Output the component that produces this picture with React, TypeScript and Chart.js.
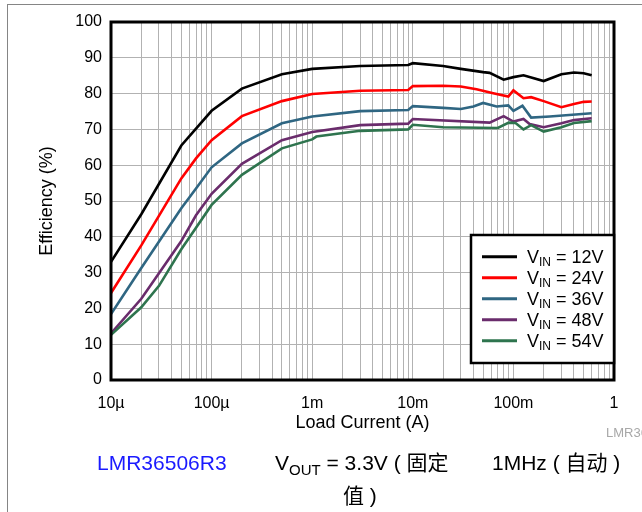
import React, { useEffect, useRef } from 'react';
import { Chart, registerables } from 'chart.js';

Chart.register(...registerables);

// ---- data ----
const decades = [1e-5, 1e-4, 1e-3, 1e-2, 1e-1, 1];
const xTickLabels = ['10µ', '100µ', '1m', '10m', '100m', '1'];
const mantissas = [1, 2, 3, 4, 5, 6, 7, 8, 9];
const yTicks = [0, 10, 20, 30, 40, 50, 60, 70, 80, 90, 100];

const seriesLabels = ['12V', '24V', '36V', '48V', '54V'];
const seriesColors = ['#000000', '#ff0000', '#2f6682', '#6a2c6c', '#2e744e'];

const cur12 = [1e-5, 2e-5, 5e-5, 1e-4, 2e-4, 5e-4, 1e-3, 3e-3, 9e-3, 1e-2, 2e-2, 3e-2, 5e-2, 5.8e-2, 8e-2, 1e-1, 1.26e-1, 2e-1, 3e-1, 4e-1, 5e-1, 6e-1];
const eff12 = [33.0, 46.3, 65.5, 75.2, 81.4, 85.4, 86.9, 87.7, 88.0, 88.5, 87.7, 86.9, 86.0, 85.8, 83.9, 84.6, 85.1, 83.5, 85.4, 85.9, 85.7, 85.1];

const cur24 = [1e-5, 2e-5, 5e-5, 7e-5, 1e-4, 2e-4, 5e-4, 1e-3, 3e-3, 9e-3, 1e-2, 2e-2, 3e-2, 4.3e-2, 6.3e-2, 8.9e-2, 1e-1, 1.26e-1, 1.5e-1, 2e-1, 3e-1, 4e-1, 5e-1, 6e-1];
const eff24 = [24.3, 37.6, 56.3, 61.9, 67.0, 73.7, 77.9, 79.9, 80.8, 81.0, 82.1, 82.2, 82.0, 81.2, 80.1, 79.2, 80.9, 78.7, 79.0, 77.9, 76.2, 77.1, 77.7, 77.8];

const cur36 = [1e-5, 2e-5, 5e-5, 7e-5, 1e-4, 2e-4, 5e-4, 1e-3, 3e-3, 9e-3, 1e-2, 2e-2, 3e-2, 4e-2, 5e-2, 6.8e-2, 8.9e-2, 1e-1, 1.23e-1, 1.5e-1, 2.3e-1, 6e-1];
const eff36 = [18.4, 31.3, 48.0, 53.5, 59.4, 66.1, 71.7, 73.6, 75.1, 75.4, 76.5, 76.0, 75.7, 76.4, 77.4, 76.4, 76.7, 75.2, 76.6, 73.3, 73.6, 74.5];

const cur48 = [1e-5, 2e-5, 5e-5, 7e-5, 1e-4, 2e-4, 5e-4, 1e-3, 3e-3, 9e-3, 1e-2, 5.8e-2, 8e-2, 1e-1, 1.26e-1, 1.45e-1, 2e-1, 3e-1, 4e-1, 6e-1];
const eff48 = [13.0, 22.7, 38.8, 46.0, 52.0, 60.4, 67.0, 69.3, 71.2, 71.6, 72.9, 71.9, 73.7, 72.2, 72.9, 71.5, 70.6, 71.7, 72.6, 73.1];

const cur54 = [1e-5, 2e-5, 3e-5, 5e-5, 7e-5, 1e-4, 2e-4, 5e-4, 1e-3, 1.1e-3, 3e-3, 9e-3, 1e-2, 2e-2, 7e-2, 9e-2, 1.05e-1, 1.26e-1, 1.5e-1, 2e-1, 3e-1, 4e-1, 6e-1];
const eff54 = [12.6, 20.3, 26.3, 36.5, 42.5, 48.9, 57.3, 64.7, 67.2, 68.0, 69.6, 70.0, 71.3, 70.6, 70.4, 71.9, 71.8, 70.0, 71.2, 69.4, 70.6, 71.8, 72.3];

const currents = [cur12, cur24, cur36, cur48, cur54];
const efficiencies = [eff12, eff24, eff36, eff48, eff54];

const FONT = '"Liberation Sans", Arial, Helvetica, sans-serif';

const gridValues: number[] = [];
decades.slice(0, -1).forEach((d) => mantissas.forEach((m) => gridValues.push(+(d * m).toPrecision(6))));
gridValues.push(decades[decades.length - 1]);

const framePlugin = {
  id: 'frameAndLegend',
  afterDraw(chart: any) {
    const { ctx, chartArea } = chart;
    ctx.save();
    ctx.strokeStyle = '#000';
    ctx.lineWidth = 3;
    ctx.strokeRect(chartArea.left, chartArea.top, chartArea.right - chartArea.left, chartArea.bottom - chartArea.top);

    const bw = 143;
    const bh = 128;
    const bx = chartArea.right - bw;
    const by = chartArea.bottom - 17 - bh;
    ctx.fillStyle = '#fff';
    ctx.fillRect(bx, by, bw, bh);
    ctx.lineWidth = 2.5;
    ctx.strokeStyle = '#000';
    ctx.strokeRect(bx, by, bw, bh);

    seriesLabels.forEach((lab, i) => {
      const cy = by + 21.7 + i * 21;
      ctx.strokeStyle = seriesColors[i];
      ctx.lineWidth = 3;
      ctx.beginPath();
      ctx.moveTo(bx + 11, cy);
      ctx.lineTo(bx + 46, cy);
      ctx.stroke();
      ctx.fillStyle = '#000';
      ctx.textBaseline = 'alphabetic';
      ctx.textAlign = 'left';
      const base = cy + 6.7;
      let x = bx + 56;
      ctx.font = `18px ${FONT}`;
      ctx.fillText('V', x, base);
      x += ctx.measureText('V').width;
      ctx.font = `12px ${FONT}`;
      ctx.fillText('IN', x, base + 3);
      x += ctx.measureText('IN').width;
      ctx.font = `18px ${FONT}`;
      ctx.fillText(' = ' + lab, x, base);
    });
    ctx.restore();
  },
};

export default function App() {
  const canvasRef = useRef<HTMLCanvasElement | null>(null);

  useEffect(() => {
    const canvas = canvasRef.current;
    if (!canvas) return;
    const datasets = seriesLabels.map((lab, i) => ({
      label: 'VIN = ' + lab,
      data: currents[i].map((c, j) => ({ x: c, y: efficiencies[i][j] })),
      borderColor: seriesColors[i],
      backgroundColor: seriesColors[i],
      borderWidth: 2.6,
      pointRadius: 0,
      tension: 0,
      fill: false,
    })).reverse();

    const chart = new Chart(canvas, {
      type: 'line',
      data: { datasets },
      plugins: [framePlugin],
      options: {
        responsive: false,
        animation: false,
        devicePixelRatio: 1,
        layout: { padding: { left: 0, top: 22, right: 28, bottom: 72 } },
        plugins: { legend: { display: false }, tooltip: { enabled: false } },
        scales: {
          x: {
            type: 'logarithmic',
            min: decades[0],
            max: decades[decades.length - 1],
            position: 'bottom',
            afterBuildTicks: (s: any) => {
              s.ticks = gridValues.map((v) => ({ value: v }));
            },
            afterFit: (s: any) => {
              s.height = 60;
            },
            grid: { color: '#b2b2b2', lineWidth: 1, drawTicks: false },
            border: { display: false },
            ticks: {
              autoSkip: false,
              maxRotation: 0,
              minRotation: 0,
              padding: 14,
              color: '#000',
              font: { family: FONT, size: 16 },
              callback: (value: any) => {
                const v = Number(value);
                const idx = decades.findIndex((d) => Math.abs(d - v) / d < 1e-6);
                return idx >= 0 ? xTickLabels[idx] : '';
              },
            },
            title: {
              display: true,
              text: 'Load Current (A)',
              color: '#000',
              font: { family: FONT, size: 18 },
              padding: { top: 0, bottom: 6 },
            },
          },
          y: {
            type: 'linear',
            min: yTicks[0],
            max: yTicks[yTicks.length - 1],
            afterFit: (s: any) => {
              s.width = 111;
            },
            grid: { color: '#b2b2b2', lineWidth: 1, drawTicks: false },
            border: { display: false },
            ticks: {
              stepSize: 10,
              padding: 9,
              color: '#000',
              font: { family: FONT, size: 16 },
            },
            title: {
              display: true,
              text: 'Efficiency (%)',
              color: '#000',
              font: { family: FONT, size: 18 },
              padding: { top: 36, bottom: 0 },
            },
          },
        },
      },
    } as any);
    return () => chart.destroy();
  }, []);

  const textBase: React.CSSProperties = {
    position: 'absolute',
    fontFamily: '"Liberation Sans", Arial, "Noto Sans CJK SC", sans-serif',
    fontSize: 21,
    lineHeight: '24px',
    whiteSpace: 'nowrap',
    color: '#000',
  };

  return (
    <div style={{ position: 'fixed', left: 0, top: 0, width: 642, height: 512, background: '#fff', overflow: 'hidden' }}>
      <div style={{ position: 'absolute', left: 7, top: 4, width: 700, height: 600, borderTop: '1px solid #858585', borderLeft: '1px solid #858585' }} />
      <canvas ref={canvasRef} width={642} height={512} style={{ position: 'absolute', left: 0, top: 0, display: 'block' }} />
      <div style={{ ...textBase, left: 606, top: 425, fontSize: 13, lineHeight: '15px', color: '#a8a8a8' }}>LMR36506R3</div>
      <div style={{ ...textBase, left: 97, top: 451, color: '#1a1aff' }}>LMR36506R3</div>
      <div style={{ ...textBase, left: 275, top: 451 }}>
        V<span style={{ fontSize: 15, position: 'relative', top: 5 }}>OUT</span> = 3.3V ( 固定
      </div>
      <div style={{ ...textBase, left: 343, top: 484 }}>值 )</div>
      <div style={{ ...textBase, left: 492, top: 451 }}>1MHz ( 自动 )</div>
    </div>
  );
}
